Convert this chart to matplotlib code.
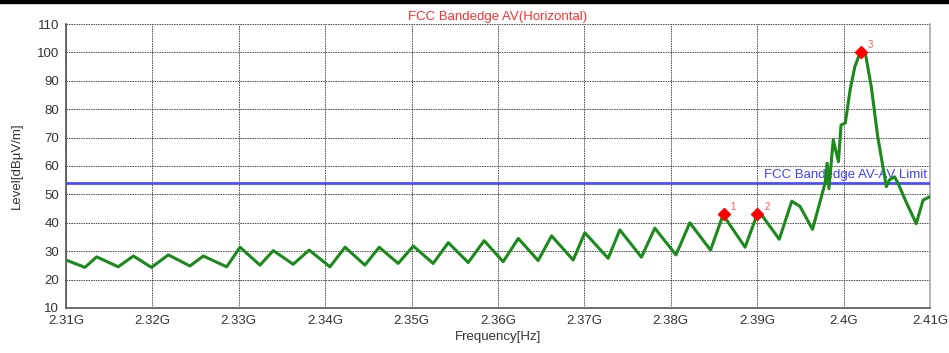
import matplotlib
matplotlib.use("Agg")
import matplotlib.pyplot as plt
from matplotlib.patches import Rectangle
from matplotlib.ticker import FixedLocator

plt.rcParams["font.family"] = ["Liberation Sans", "DejaVu Sans"]

# ── Trace (peaks / valleys), frequency in MHz, level in dBuV/m ──
freq_mhz = [
    2310.0, 2312.2, 2313.55, 2316.05, 2317.8, 2319.9, 2321.85, 2324.35, 2325.9,
    2328.6, 2330.15, 2332.45, 2334.0, 2336.3, 2338.15, 2340.55, 2342.3, 2344.6,
    2346.25, 2348.45, 2350.2, 2352.5, 2354.25, 2356.55, 2358.4, 2360.6, 2362.35,
    2364.65, 2366.2, 2368.7, 2370.05, 2372.75, 2374.1, 2376.6, 2378.15, 2380.6,
    2382.2, 2384.6, 2386.05, 2388.6, 2390.15, 2392.55, 2394.0, 2394.95, 2396.4,
    2397.85, 2398.1, 2398.3, 2398.8, 2399.4, 2399.7, 2400.2, 2400.75, 2401.3,
    2401.95, 2402.55, 2403.2, 2403.95, 2404.95, 2405.3, 2405.9, 2406.3, 2407.3,
    2408.4, 2409.2, 2410.0,
]
level = [
    26.9, 24.3, 28.0, 24.5, 28.3, 24.3, 28.7, 24.8, 28.3,
    24.5, 31.4, 25.1, 30.2, 25.4, 30.4, 24.5, 31.4, 25.1,
    31.4, 25.7, 31.8, 25.7, 33.0, 26.0, 33.7, 26.3, 34.5,
    26.7, 35.4, 26.9, 36.5, 27.5, 37.5, 27.9, 38.1, 28.7,
    40.0, 30.4, 42.8, 31.4, 44.3, 34.2, 47.6, 45.8, 37.7,
    53.9, 61.0, 52.0, 69.2, 61.5, 74.4, 75.2, 86.8, 95.0,
    100.2, 99.1, 87.9, 70.3, 52.7, 55.1, 56.2, 53.9, 46.9,
    39.7, 48.0, 49.2,
]

# ── Markers ──
marker_freq_mhz = [2386.1, 2390.0, 2402.0]
marker_level = [43.0, 43.0, 100.2]
marker_names = ["1", "2", "3"]

limit_level = 54.0
limit_name = "FCC Bandedge AV-AV Limit"

x_ticks_mhz = [2310, 2320, 2330, 2340, 2350, 2360, 2370, 2380, 2390, 2400, 2410]
x_tick_labels = ["2.31G", "2.32G", "2.33G", "2.34G", "2.35G", "2.36G",
                 "2.37G", "2.38G", "2.39G", "2.4G", "2.41G"]
y_ticks = [10, 20, 30, 40, 50, 60, 70, 80, 90, 100, 110]

fig = plt.figure(figsize=(9.49, 3.53), dpi=100)
ax = fig.add_axes([0.0695, 0.1275, 0.9105, 0.8045])

# black bar across the top of the image
fig.patches.append(Rectangle((0, 1 - 3 / 353), 1, 3 / 353, transform=fig.transFigure,
                             color="black", zorder=0))

ax.axhline(limit_level, color="#4d4dff", linewidth=2, zorder=3)
ax.text(2409.7, limit_level + 0.8, limit_name, color="#4040ff", fontsize=9.5,
        ha="right", va="bottom", zorder=4)

ax.plot(freq_mhz, level, color="#1b8a1b", linewidth=2.2, solid_joinstyle="round", zorder=5)
ax.plot(marker_freq_mhz, marker_level, linestyle="none", marker="D", markersize=6,
        color="red", zorder=6)
for f, lv, name in zip(marker_freq_mhz, marker_level, marker_names):
    ax.annotate(name, (f, lv), xytext=(5, 3), textcoords="offset points",
                color="#ff5a5a", fontsize=7, zorder=7)

ax.set_xlim(2310, 2410)
ax.set_ylim(10, 110)
ax.xaxis.set_major_locator(FixedLocator(x_ticks_mhz))
ax.set_xticklabels(x_tick_labels)
ax.yaxis.set_major_locator(FixedLocator(y_ticks))
ax.tick_params(length=0, labelsize=9.5, colors="#333333", pad=5)
ax.grid(True, color="#222222", linestyle=(0, (2, 1.2)), linewidth=0.55)

for side in ["left", "bottom"]:
    ax.spines[side].set_color("#555555")
    ax.spines[side].set_linewidth(1.2)
ax.spines["right"].set_color("#aaaaaa")
ax.spines["right"].set_linewidth(1.2)
ax.spines["top"].set_visible(False)

ax.set_title("FCC Bandedge AV(Horizontal)", color="#ff3030", fontsize=9.5, pad=3)
ax.set_xlabel("Frequency[Hz]", fontsize=9.5, color="#333333", labelpad=3)
ax.set_ylabel("Level[dB\u00b5V/m]", fontsize=9.5, color="#333333", labelpad=10)

fig.savefig("out.png", dpi=100)
